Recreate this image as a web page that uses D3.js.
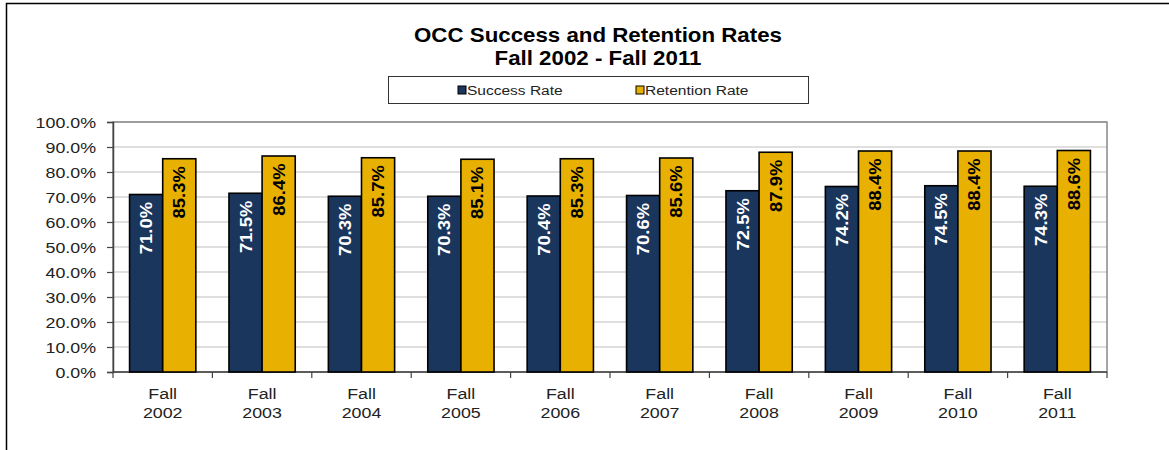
<!DOCTYPE html>
<html><head><meta charset="utf-8">
<script src="https://cdn.jsdelivr.net/npm/d3@7"></script>
<style>body{margin:0;background:#fff;}svg{display:block;font-family:"Liberation Sans",Arial,sans-serif;}</style>
</head><body><svg id="c" width="1169" height="450"></svg>
<script>
const categories = ["Fall 2002","Fall 2003","Fall 2004","Fall 2005","Fall 2006","Fall 2007","Fall 2008","Fall 2009","Fall 2010","Fall 2011"];
const successRate = [71.0,71.5,70.3,70.3,70.4,70.6,72.5,74.2,74.5,74.3];
const retentionRate = [85.3,86.4,85.7,85.1,85.3,85.6,87.9,88.4,88.4,88.6];
const seriesNames = ["Success Rate","Retention Rate"];
const yTicks = [0,10,20,30,40,50,60,70,80,90,100];
const colors = ["#1a365d","#e8b000"];
const SX = 1.15; // horizontal stretch of text as in the reference

const svg = d3.select("#c");
svg.append("path").attr("d","M6.5,452 L6.5,3.5 L1172,3.5").attr("fill","none").attr("stroke","#000").attr("stroke-width",1.5);

const m = {left:113, right:1107, top:122, bottom:372};
const x0 = d3.scaleBand().domain(categories).range([m.left,m.right]);
const x1 = d3.scaleBand().domain([0,1]).range([0,x0.bandwidth()]).paddingOuter(0.5).paddingInner(0);
const y = d3.scaleLinear().domain([0,100]).range([m.bottom,m.top]);

function sText(parent, x, yy, txt, opts) {
  const g = parent.append("g").attr("transform",`translate(${x},${yy}) scale(${SX},1)`);
  const t = g.append("text").attr("x",0).attr("y",0).text(txt);
  for (const k in opts) t.attr(k, opts[k]);
  return t;
}

// gridlines
svg.append("g").selectAll("line").data(yTicks.filter(d=>d>0)).join("line")
  .attr("x1",m.left).attr("x2",m.right).attr("y1",d=>y(d)).attr("y2",d=>y(d))
  .attr("stroke","#d4d4d4").attr("stroke-width",1.5);
svg.append("rect").attr("x",m.left).attr("y",m.top).attr("width",m.right-m.left).attr("height",m.bottom-m.top)
  .attr("fill","none").attr("stroke","#888").attr("stroke-width",1.5);

// y axis
const yAxis = svg.append("g").attr("transform",`translate(${m.left},0)`)
  .call(d3.axisLeft(y).tickValues(yTicks).tickSize(6).tickFormat(""));
yAxis.select(".domain").attr("stroke","#444").attr("stroke-width",1.5);
yAxis.selectAll(".tick line").attr("stroke","#444").attr("stroke-width",1.2);
const yl = svg.append("g");
yTicks.forEach(v => sText(yl, 96, y(v)+5.5, v.toFixed(1)+"%", {"text-anchor":"end","font-size":15.5,"fill":"#222"}));

// x axis
const xAxis = svg.append("g").attr("transform",`translate(0,${m.bottom})`);
xAxis.append("line").attr("x1",m.left).attr("x2",m.right).attr("stroke","#444").attr("stroke-width",1.5);
const xt = d3.range(categories.length+1);
xAxis.selectAll("line.t").data(xt).join("line").attr("class","t")
  .attr("x1",i=>m.left+i*x0.step()).attr("x2",i=>m.left+i*x0.step()).attr("y1",0).attr("y2",6)
  .attr("stroke","#444").attr("stroke-width",1.2);
categories.forEach(c => {
  const cx = x0(c)+x0.bandwidth()/2;
  const parts = c.split(" ");
  sText(xAxis, cx, 27, parts[0], {"text-anchor":"middle","font-size":15.5,"fill":"#222"});
  sText(xAxis, cx, 46, parts[1], {"text-anchor":"middle","font-size":15.5,"fill":"#222"});
});

// bars
const data = categories.map((c,i)=>({c, vals:[successRate[i],retentionRate[i]]}));
const g = svg.append("g").selectAll("g").data(data).join("g").attr("transform",d=>`translate(${x0(d.c)},0)`);
g.selectAll("rect").data(d=>d.vals.map((v,k)=>({v,k}))).join("rect")
  .attr("x",d=>x1(d.k)).attr("width",x1.bandwidth()).attr("y",d=>y(d.v)).attr("height",d=>y(0)-y(d.v))
  .attr("fill",d=>colors[d.k]).attr("stroke","#000").attr("stroke-width",1.6);
g.selectAll("text").data(d=>d.vals.map((v,k)=>({v,k}))).join("text")
  .attr("transform",d=>`translate(${x1(d.k)+x1.bandwidth()/2+6},${y(d.v)+7.5}) rotate(-90) scale(${SX},1)`)
  .attr("text-anchor","end").attr("font-size",16).attr("font-weight","bold").attr("fill",d=>d.k===0?"#fff":"#000")
  .text(d=>d.v.toFixed(1)+"%");

// title
const tg = svg.append("g");
sText(tg, 598, 42, "OCC Success and Retention Rates", {"text-anchor":"middle","font-weight":"bold","font-size":19.4,"fill":"#000"});
sText(tg, 598, 65, "Fall 2002 - Fall 2011", {"text-anchor":"middle","font-weight":"bold","font-size":19.4,"fill":"#000"});

// legend
svg.append("rect").attr("x",388.5).attr("y",76.5).attr("width",420).attr("height",27).attr("fill","#fff").attr("stroke","#333").attr("stroke-width",1);
const lx = [458,636];
seriesNames.forEach((s,i) => {
  svg.append("rect").attr("x",lx[i]).attr("y",86).attr("width",8).attr("height",8).attr("fill",colors[i]).attr("stroke","#000").attr("stroke-width",1);
  sText(svg, lx[i]+9, 95, s, {"font-size":13.5,"fill":"#222"});
});
</script></body></html>
